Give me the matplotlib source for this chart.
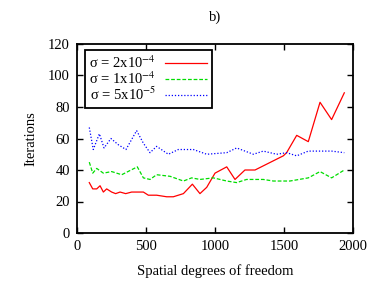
import matplotlib
matplotlib.use("Agg")
import matplotlib.pyplot as plt

plt.rcParams['font.family'] = ['Liberation Serif', 'DejaVu Serif']
plt.rcParams['mathtext.fontset'] = 'stix'

# values
x_red = [89, 114, 143, 167, 191, 215, 251, 280, 312, 353, 396, 481, 517, 577,
         650, 698, 771, 836, 891, 940, 1000, 1085, 1145, 1217, 1290, 1495,
         1519, 1592, 1676, 1761, 1845, 1937]
y_red = [32, 28, 28, 30, 26, 28, 26, 25, 26, 25, 26, 26, 24, 24, 23, 23, 25,
         31, 25, 29, 38, 42, 34, 40, 40, 49, 51, 62, 58, 83, 72, 89]

x_green = [89, 114, 143, 191, 251, 324, 437, 481, 529, 577, 674, 771, 831, 891,
           988, 1085, 1157, 1229, 1350, 1423, 1543, 1676, 1761, 1845, 1937]
y_green = [45, 38, 41, 38, 39, 37, 42, 35, 34, 37, 36, 33, 35, 34, 35, 33, 32,
           34, 34, 33, 33, 35, 39, 35, 40]

x_blue = [89, 118, 162, 196, 246, 300, 355, 432, 481, 529, 577, 662, 734, 843,
          940, 1085, 1157, 1278, 1350, 1447, 1519, 1592, 1676, 1845, 1937]
y_blue = [67, 53, 63, 54, 60, 56, 53, 65, 57, 51, 55, 50, 53, 53, 50, 51, 54,
          50, 52, 50, 51, 49, 52, 52, 51]

labels = [r"σ = 2x10$^{-4}$", r"σ = 1x10$^{-4}$", r"σ = 5x10$^{-5}$"]

fs = 10.5

fig = plt.figure(figsize=(3.74, 2.81), dpi=100)
ax = fig.add_axes([77 / 374, 1 - 233 / 281, 276 / 374, 189 / 281])

ax.plot(x_red, y_red, color='#ff0000', lw=0.9, label=labels[0])
ax.plot(x_green, y_green, color='#00dd00', lw=0.9, ls=(0, (3, 1.5)), label=labels[1])
ax.plot(x_blue, y_blue, color='#0000ff', lw=0.9, ls=(0, (1, 1.5)), label=labels[2])

ax.set_xlim(0, 2000)
ax.set_ylim(0, 120)
ax.set_xticks(range(0, 2001, 500))
ax.set_yticks(range(0, 121, 20))
ax.tick_params(direction='in', top=True, right=True, labelsize=fs, length=4.5,
               width=1.0, pad=5)
for s in ax.spines.values():
    s.set_linewidth(1.3)

ax.set_xlabel("Spatial degrees of freedom", fontsize=fs, labelpad=8)
ax.set_ylabel("Iterations", fontsize=fs, labelpad=8)
ax.set_title("b)", fontsize=fs, pad=17)

leg = ax.legend(loc='upper left', markerfirst=False, fontsize=fs, fancybox=False,
                framealpha=1, edgecolor='black', handlelength=2.9,
                labelspacing=-0.05, borderpad=0.3, handletextpad=0.6,
                borderaxespad=0, bbox_to_anchor=(8 / 276, 1 - 6 / 189))
leg.get_frame().set_linewidth(1.3)

fig.savefig("out.png", dpi=100)
